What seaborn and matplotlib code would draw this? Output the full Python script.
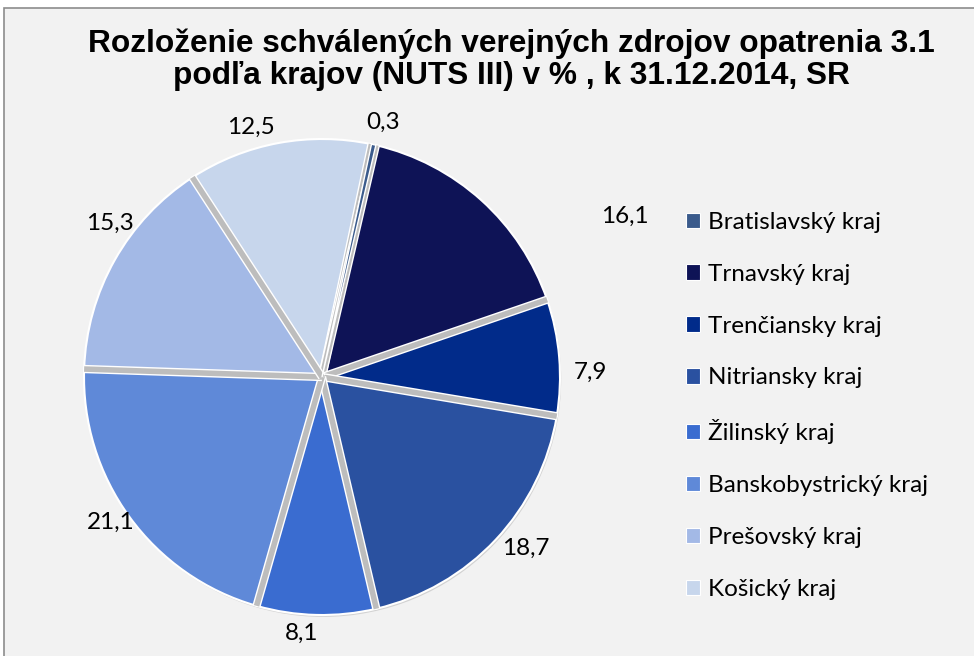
import matplotlib
matplotlib.use("Agg")
import numpy as np
import matplotlib.pyplot as plt
import seaborn as sns
from matplotlib.patches import Rectangle, Circle

# data
regions = ["Bratislavský kraj", "Trnavský kraj", "Trenčiansky kraj", "Nitriansky kraj",
           "Žilinský kraj", "Banskobystrický kraj", "Prešovský kraj", "Košický kraj"]
shares = [0.3, 16.1, 7.9, 18.7, 8.1, 21.1, 15.3, 12.5]
share_labels = ["0,3", "16,1", "7,9", "18,7", "8,1", "21,1", "15,3", "12,5"]
region_colors = ["#3B5B8C", "#0E1356", "#012B8A", "#2A51A0", "#3A6CD0",
                 "#5F89D8", "#A3B9E6", "#C7D6EC"]

sns.set_theme(style="white")
plt.rcParams["font.family"] = ["Lato", "DejaVu Sans"]
palette = sns.color_palette(region_colors)

W, H = 974, 656
fig = plt.figure(figsize=(W / 100, H / 100), dpi=100)
fig.patch.set_facecolor("white")
fig.patches.append(Rectangle((4 / W, -0.01), 1.0, (H - 8) / H + 0.01,
                             transform=fig.transFigure, facecolor="#F2F2F2",
                             edgecolor="#8C8C8C", linewidth=1.2, zorder=-5))

# pie axes: center (322, 377) px, radius ~238 px
R = 238
cx, cy = 322, H - 377
lim = 1.3
ax = fig.add_axes([(cx - lim * R) / W, (cy - lim * R) / H, 2 * lim * R / W, 2 * lim * R / H])
ax.patch.set_alpha(0)

start = 78
# soft shadow under the pie
ax.add_patch(Circle((0.005, -0.008), 1.0, facecolor="#D2D2D2", edgecolor="none", zorder=0))
wedges, texts = ax.pie(shares, colors=palette, startangle=start, counterclock=False,
                       labels=share_labels, labeldistance=1.1, radius=1.0,
                       wedgeprops=dict(edgecolor="white", linewidth=1.5, zorder=1),
                       textprops=dict(fontsize=17.5, color="black"))
# gray separators with white borders between slices
bounds = start - 360 * np.cumsum([0] + shares[:-1]) / 100
for a in np.deg2rad(bounds):
    for c, lw in (("white", 6.0), ("#BDBDBD", 4.0)):
        ax.plot([0, np.cos(a)], [0, np.sin(a)], color=c, lw=lw,
                solid_capstyle="butt", zorder=2, clip_on=False)
# the tiny Bratislava slice stays visible above the separators
wedges[0].set_zorder(3)
wedges[0].set_linewidth(1.0)
ax.set_xlim(-lim, lim)
ax.set_ylim(-lim, lim)
ax.set_aspect("equal")
ax.axis("off")

for w in wedges:
    w.set_clip_on(False)

# Excel placed the data labels slightly off the slice mid-angles
label_shift = [-1, -20, -3.7, 3, -3.2, -1.5, -6.5, 5.5]
label_dist = [1.1, 1.44, 1.13, 1.12, 1.08, 1.08, 1.1, 1.09]
mids = start - 360 * (np.cumsum(shares) - np.array(shares) / 2) / 100
for t, m, s, d in zip(texts, mids, label_shift, label_dist):
    a = np.deg2rad(m + s)
    t.set_position((d * np.cos(a), d * np.sin(a)))
    t.set_ha("center")
    t.set_va("center")

fig.text(0.525, 0.909, "Rozloženie schválených verejných zdrojov opatrenia 3.1\n"
         "podľa krajov (NUTS III) v % , k 31.12.2014, SR",
         ha="center", va="center", fontsize=22.8, fontweight="bold", color="black",
         family=["Liberation Sans", "DejaVu Sans"], linespacing=1.08)

leg = fig.legend(wedges, regions, loc="upper left", bbox_to_anchor=(664 / W, 1 - 190 / H),
                 frameon=False, fontsize=17.5, handlelength=0.6, handleheight=0.6,
                 handletextpad=0.3, labelspacing=1.27, labelcolor="black")
for h in leg.legend_handles:
    h.set_edgecolor("white")
    h.set_linewidth(0.8)

fig.savefig("out.png", dpi=100, facecolor=fig.get_facecolor())
